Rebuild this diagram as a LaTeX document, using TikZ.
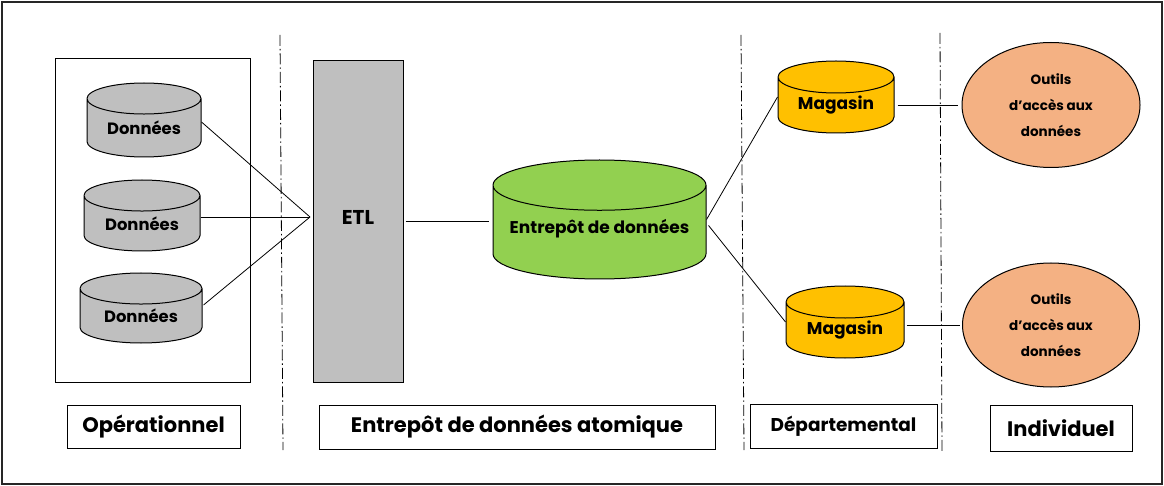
\documentclass[tikz,border=0pt]{standalone}
\usepackage{fontspec}
\setmainfont{Poppins}
\usetikzlibrary{shapes.geometric}
\definecolor{dbgray}{HTML}{BFBFBF}
\definecolor{dwgreen}{HTML}{92D050}
\definecolor{martorange}{HTML}{FFC000}
\definecolor{toolsalmon}{HTML}{F4B183}
\tikzset{
  archi/.style={
    x=1pt, y=-1pt,
    every node/.style={draw, line width=1pt, inner sep=0pt, font=\bfseries},
  },
  db/.style={cylinder, shape border rotate=90, aspect=0.42, anchor=shape center, fill=#1},
  db/.default=dbgray,
  srcfont/.style={font={\fontsize{16.4}{20}\selectfont\bfseries}},
  martfont/.style={font={\fontsize{17}{20}\selectfont\bfseries}},
  layerbox/.style={rectangle, fill=white, font={\fontsize{21}{24}\selectfont\bfseries}},
  tool/.style={ellipse, fill=toolsalmon, align=center,
    font={\fontsize{13.5}{26}\selectfont\bfseries}},
  link/.style={line width=0.8pt},
  sep/.style={line width=0.8pt, dash pattern=on 11pt off 3pt on 1.5pt off 3pt}
}
\begin{document}
\begin{tikzpicture}[archi]
\useasboundingbox (0,0) rectangle (1164,486);
\draw[line width=2pt, black!85] (2,2) rectangle (1162,484);
\draw[sep] (280,35) -- (283,450);
\draw[sep] (741,35) -- (744,450);
\draw[sep] (940,33) -- (942,452);
\node[minimum width=195, minimum height=323] (ops) at (152.5,220.5) {};
\node[db, srcfont, minimum width=114, minimum height=74] (d1) at (144,120) {Données};
\node[db, srcfont, minimum width=116, minimum height=71] (d2) at (142,215.5) {Données};
\node[db, srcfont, minimum width=122, minimum height=70] (d3) at (141,308) {Données};
\node[fill=dbgray, minimum width=90, minimum height=321, text height=16pt, text depth=10pt,
  font={\fontsize{20}{24}\selectfont\bfseries}] (etl) at (358,221.5) {ETL};
\node[db=dwgreen, aspect=0.28, minimum width=213, minimum height=119, martfont]
  (dw) at (599.5,219.5) {\raisebox{-1pt}[0pt][0pt]{Entrepôt de données}};
\node[db=martorange, martfont, minimum width=116, minimum height=72] (m1) at (836,97) {Magasin};
\node[db=martorange, martfont, minimum width=118, minimum height=72] (m2) at (845,322) {Magasin};
\node[tool, minimum width=178, minimum height=125] (o1) at (1051,105) {Outils\\d'accès aux\\données};
\node[tool, minimum width=177, minimum height=124] (o2) at (1051,325) {Outils\\d'accès aux\\données};
\coordinate (join) at (310,217);
\draw[link] (d1.east |- d1.shape center) ++(0,2) -- (join);
\draw[link] (d2.east |- d2.shape center) ++(0,1.5) -- (join);
\draw[link] (d3.east |- d3.shape center) ++(1,-3) -- (join);
\draw[link] ([xshift=2pt]etl.east) -- ([xshift=-4pt]dw.west |- etl.east);
\draw[link] (dw.east |- dw.shape center) -- (m1.west |- m1.shape center);
\draw[link] (dw.east |- dw.shape center) ++(2,6) -- (m2.west |- m2.shape center);
\draw[link] ([xshift=3pt]m1.east |- o1.west) -- ([xshift=-4pt]o1.west);
\draw[link] ([xshift=2pt]m2.east |- o2.west) -- ([xshift=-2pt]o2.west);
\node[layerbox, minimum width=173, minimum height=43] (lops) at (153.5,426.5) {Opérationnel};
\node[layerbox, minimum width=396, minimum height=44] (ldw) at (517,427) {Entrepôt de données atomique};
\node[layerbox, minimum width=187, minimum height=44, font={\fontsize{18.5}{22}\selectfont\bfseries}] (ldep) at (843.5,426) {Départemental};
\node[layerbox, minimum width=142, minimum height=46] (lind) at (1061,428) {Individuel};
\end{tikzpicture}
\end{document}
